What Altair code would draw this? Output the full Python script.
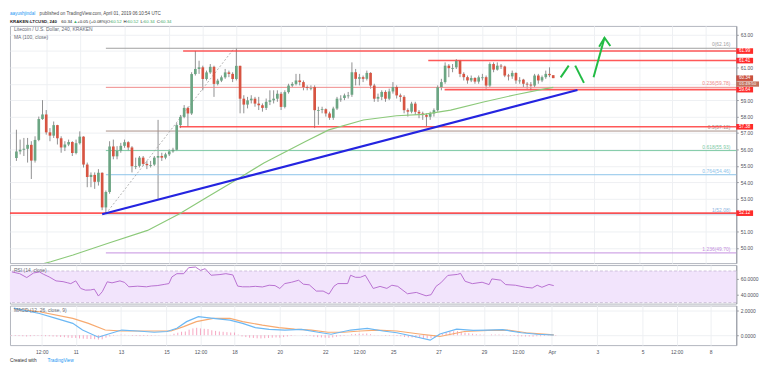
import altair as alt
import pandas as pd

FONT = "Liberation Sans"
W = 735
H_MAIN, H_RSI, H_MACD = 240, 39, 40
X_DOMAIN = [8.1, 40.13]
P_DOMAIN = [49.08, 63.52]
RSI_DOMAIN = [28.75, 77.5]
MACD_DOMAIN = [-0.8, 2.4]

UP, DOWN, WICK = "#6ba583", "#d75442", "#737375"
GRID = "#eef0f3"
TXT = "#50535e"
RED = "#ff3b3b"

# ---------------- data ----------------
first_candle_day = 8 + 4 / 24          # 8 March 04:00 UTC, 4h candles
candle_step = 4 / 24
first_open = 55.48
closes = [55.88, 55.98, 56.04, 56.28, 55.32, 56.58, 57.85, 58.13, 57.04, 56.84,
          57.48, 56.68, 56.12, 56.30, 56.45, 55.78, 56.38, 56.78, 55.08, 54.32,
          54.45, 54.03, 54.58, 52.47, 53.41, 56.18, 55.58, 55.92, 56.22, 56.44,
          56.12, 54.98, 55.00, 55.50, 55.12, 55.04, 55.08, 55.50, 55.60, 55.50,
          55.70, 55.88, 55.98, 57.48, 57.98, 58.53, 58.19, 60.59, 60.90, 61.00,
          60.29, 60.69, 61.03, 59.99, 60.19, 60.39, 60.69, 60.60, 60.29, 61.09,
          59.09, 58.73, 58.99, 59.09, 58.79, 58.69, 58.53, 58.90, 58.99, 59.09,
          59.39, 58.59, 59.49, 59.89, 59.99, 60.20, 60.10, 59.79, 59.75, 59.80,
          58.39, 58.40, 58.45, 58.19, 57.93, 58.49, 59.09, 59.13, 59.29, 59.33,
          60.70, 60.30, 60.40, 60.30, 60.66, 59.89, 59.09, 59.20, 59.50, 59.09,
          59.53, 59.80, 59.29, 59.20, 58.39, 58.30, 58.79, 58.29, 58.19, 58.09,
          57.99, 58.19, 58.39, 59.79, 60.10, 61.10, 60.95, 61.00, 61.40, 60.60,
          60.40, 60.20, 60.35, 60.13, 60.39, 60.40, 59.89, 61.20, 60.86, 61.10,
          61.05, 60.50, 60.45, 60.66, 60.20, 60.25, 60.00, 59.95, 59.89, 60.50,
          60.20, 60.40, 60.60, 60.52, 60.34]
highs = [57.2, 56.6, 56.7, 56.7, 56.5, 56.8, 58.0, 59.0, 58.4, 57.3,
         57.7, 57.5, 56.8, 56.5, 56.6, 56.5, 56.6, 57.1, 56.8, 55.2,
         54.6, 54.6, 54.8, 54.6, 53.5, 56.5, 56.6, 56.2, 56.4, 56.6,
         56.5, 56.2, 55.5, 55.6, 55.6, 55.3, 55.3, 55.6, 57.8, 55.8,
         55.8, 56.0, 56.1, 57.6, 58.1, 58.7, 58.6, 60.7, 62.0, 61.4,
         61.1, 60.8, 61.2, 61.1, 60.3, 60.5, 60.9, 60.8, 60.7, 62.16,
         61.1, 59.3, 59.2, 59.3, 59.2, 59.2, 58.8, 59.1, 59.6, 59.6,
         59.6, 59.5, 59.6, 60.0, 60.1, 60.6, 60.6, 60.2, 59.9, 59.9,
         59.9, 58.6, 58.6, 58.5, 58.3, 58.6, 59.2, 59.3, 59.4, 59.5,
         61.3, 60.9, 60.6, 60.5, 60.8, 60.7, 60.0, 59.4, 59.6, 59.6,
         59.7, 60.1, 59.9, 59.4, 59.3, 58.5, 58.9, 58.9, 58.4, 58.3,
         58.2, 58.3, 58.5, 59.9, 60.3, 61.3, 61.2, 61.2, 61.5, 61.45,
         60.7, 60.5, 60.5, 60.4, 60.5, 60.6, 60.5, 61.3, 61.3, 61.3,
         61.2, 61.1, 60.6, 60.8, 60.7, 60.4, 60.3, 60.1, 60.1, 60.6,
         60.6, 60.5, 60.8, 61.0, 60.52]
lows = [55.3, 55.7, 55.6, 55.2, 54.2, 55.2, 56.5, 57.8, 56.9, 56.5,
        56.7, 56.3, 55.8, 55.9, 56.2, 55.6, 55.7, 56.3, 54.9, 53.7,
        53.7, 53.6, 53.8, 52.3, 52.1, 53.3, 55.4, 55.4, 55.8, 56.1,
        55.9, 54.6, 54.8, 54.9, 55.0, 54.8, 54.9, 55.0, 53.0, 55.3,
        55.4, 55.6, 55.8, 55.9, 57.3, 57.9, 57.4, 58.1, 60.5, 60.6,
        59.6, 60.2, 60.6, 59.2, 59.9, 60.1, 60.3, 60.4, 60.1, 60.2,
        58.2, 58.2, 58.5, 58.8, 58.6, 58.4, 58.3, 58.4, 58.7, 58.8,
        58.9, 58.4, 58.5, 59.4, 59.8, 59.9, 59.9, 59.6, 59.6, 59.6,
        57.3, 57.5, 58.2, 58.0, 57.8, 57.8, 58.4, 58.9, 59.0, 59.1,
        59.2, 59.9, 59.9, 60.1, 60.2, 59.7, 58.9, 58.9, 59.0, 58.9,
        59.0, 59.4, 59.1, 58.9, 58.2, 58.0, 58.2, 58.1, 57.9, 57.8,
        57.4, 57.8, 58.0, 58.3, 59.6, 60.0, 60.4, 60.7, 60.9, 60.4,
        60.2, 60.0, 60.1, 60.0, 60.0, 60.2, 59.7, 59.8, 60.7, 60.8,
        60.9, 60.4, 60.2, 60.3, 60.0, 60.0, 59.8, 59.7, 59.6, 59.8,
        60.0, 60.1, 60.3, 60.4, 60.34]
macd_hist = [-0.05, -0.06, -0.07, -0.08, -0.10, -0.08, -0.06, -0.05, -0.06, -0.08, -0.08,
             -0.10, -0.12, -0.14, -0.16, -0.20, -0.22, -0.22,
             -0.26, -0.28, -0.30, -0.31, -0.32, -0.35, -0.33,
             -0.20, -0.10, -0.04, 0.02, 0.05, 0.04, -0.02,
             -0.05, -0.06, -0.07, -0.06, -0.05, -0.04, -0.03,
             -0.02, 0.00, 0.02, 0.03, 0.12, 0.20, 0.28,
             0.30, 0.45, 0.55, 0.60, 0.55, 0.52, 0.50,
             0.40, 0.35, 0.30, 0.28, 0.25, 0.22, 0.22,
             0.05, -0.10, -0.15, -0.20, -0.22, -0.25, -0.26,
             -0.24, -0.22, -0.20, -0.18, -0.20, -0.15, -0.10,
             -0.06, -0.02, 0.00, -0.02, -0.04, -0.05, -0.12,
             -0.16, -0.18, -0.20, -0.22, -0.18, -0.12, -0.08,
             -0.05, -0.02, 0.08, 0.10, 0.12, 0.12, 0.14,
             0.08, 0.02, -0.02, -0.02, -0.05, -0.04, -0.03,
             -0.06, -0.08, -0.14, -0.18, -0.18, -0.20, -0.22,
             -0.24, -0.26, -0.24, -0.20, -0.05, 0.10, 0.25,
             0.30, 0.32, 0.34, 0.28, 0.22, 0.16, 0.12,
             0.08, 0.06, 0.04, 0.00, 0.06, 0.06, 0.06,
             0.04, -0.02, -0.05, -0.06, -0.08, -0.09, -0.10,
             -0.10, -0.11, -0.08, -0.08, -0.06, -0.04, -0.03, -0.04]

ma_days = [8.40, 9.70, 10.70, 12.30, 14.03, 15.46, 16.63, 18.06, 19.23, 21.09,
           22.13, 23.68, 25.16, 26.37, 27.58, 29.05, 30.48, 31.78, 32.17]
ma_values = [48.70, 49.16, 49.57, 50.30, 51.07, 52.09, 53.05, 54.20, 55.18, 56.48,
             57.19, 57.79, 58.05, 58.13, 58.39, 58.89, 59.33, 59.69, 59.78]

rsi_days = [8.19, 8.53, 8.84, 9.14, 9.40, 9.57, 9.83, 10.13, 10.44, 10.65, 10.78, 11.00,
            11.22, 11.43, 11.65, 11.82, 12.00, 12.17, 12.39, 12.60, 12.95, 13.16, 13.34,
            13.73, 14.12, 14.33, 14.59, 14.90, 15.11, 15.24, 15.46, 15.76, 15.98, 16.28,
            16.50, 16.71, 16.97, 17.36, 17.62, 17.93, 18.14, 18.36, 18.66, 18.92, 19.23,
            19.53, 19.79, 20.00, 20.22, 20.52, 20.83, 21.04, 21.30, 21.61, 21.91, 22.17,
            22.39, 22.56, 22.99, 23.12, 23.34, 23.55, 23.77, 24.12, 24.42, 24.72, 24.94,
            25.20, 25.63, 26.02, 26.45, 26.67, 26.89, 27.10, 27.41, 27.84, 27.97, 28.17,
            28.49, 28.92, 29.23, 29.35, 29.74, 29.96, 30.39, 30.83, 31.13, 31.35, 31.56,
            31.87, 32.08]
rsi_values = [68.8, 66.6, 61.7, 67.5, 68.8, 66.0, 62.5, 57.5, 56.5, 55.0, 54.0, 57.5,
              47.9, 45.8, 46.0, 47.0, 38.3, 43.8, 56.3, 55.0, 57.5, 55.5, 50.0,
              50.8, 50.0, 51.0, 51.5, 53.0, 54.1, 62.5, 66.6, 66.6, 74.2, 75.0,
              70.8, 72.9, 64.6, 65.5, 66.6, 65.0, 50.9, 50.0, 50.0, 50.6, 49.8,
              52.0, 51.5, 47.9, 54.1, 55.8, 58.3, 53.3, 52.5, 44.6, 44.6, 40.8,
              50.8, 54.1, 54.1, 64.6, 62.0, 62.0, 64.6, 47.9, 50.5, 48.0, 52.0,
              50.6, 41.2, 42.9, 38.6, 40.0, 50.6, 55.0, 64.4, 65.7, 67.0, 57.0,
              54.0, 55.8, 52.8, 60.0, 58.4, 52.8, 52.0, 49.4, 48.5, 52.0, 49.4,
              53.0, 51.5]

macd_days = [8.27, 9.40, 10.13, 10.87, 11.30, 12.00, 12.30, 13.03, 13.73, 14.46, 15.03,
             15.46, 15.89, 16.41, 17.06, 17.80, 18.36, 18.92, 19.53, 20.22, 20.96, 21.69,
             22.26, 23.12, 23.86, 24.55, 25.16, 25.94, 26.63, 27.06, 27.80, 28.53, 29.18,
             29.83, 30.65, 31.35, 32.08]
macd_values = [2.20, 1.76, 1.36, 0.96, 0.42, -0.16, 0.02, 0.42, 0.34, 0.24, 0.30,
               0.56, 1.10, 1.50, 1.36, 1.22, 0.96, 0.62, 0.48, 0.42, 0.48, 0.24,
               0.08, 0.42, 0.56, 0.34, 0.20, -0.10, -0.40, 0.10, 0.49, 0.40, 0.42,
               0.45, 0.20, 0.08, 0.02]
signal_days = [8.27, 9.40, 10.87, 11.56, 12.30, 13.03, 14.46, 15.20, 15.76, 16.32, 17.06,
               17.80, 18.36, 19.23, 19.96, 20.65, 21.39, 22.13, 22.82, 23.55, 24.29, 25.16,
               26.15, 27.06, 28.14, 29.18, 30.05, 30.87, 32.08]
signal_values = [2.16, 1.90, 1.36, 0.96, 0.42, 0.34, 0.34, 0.34, 0.70, 1.10, 1.36,
                 1.36, 1.10, 0.82, 0.62, 0.50, 0.42, 0.24, 0.24, 0.34, 0.42, 0.34,
                 0.10, -0.10, 0.30, 0.40, 0.41, 0.20, 0.03]

fib_ratios = [0, 0.236, 0.5, 0.618, 0.764, 1, 1.236]
fib_prices = [62.16, 59.78, 57.12, 55.93, 54.46, 52.08, 49.70]
fib_start_day = 12.1667
fib_diag_days = [12.1667, 17.9]
fib_diag_prices = [52.08, 62.16]

red_line_prices = [61.99, 61.41, 59.64, 57.38]
red_line_start_days = [15.62, 26.58, 27.31, 15.46]
support_price = 52.12

trend_days = [12.00, 33.25]
trend_prices = [52.05, 59.62]

arrow_seg = [1, 1, 2, 2, 3, 3, 4, 4, 4]
arrow_days = [32.50, 32.86, 33.15, 33.54, 33.97, 34.46, 34.22, 34.46, 34.72]
arrow_prices = [60.39, 61.10, 61.10, 60.05, 60.39, 62.80, 62.25, 62.80, 62.30]

box_prices = [61.99, 61.41, 60.34, 59.64, 57.38, 52.12]
box_labels = ["61.99", "61.41", "60.34", "59.64", "57.38", "52.12"]
countdown_label = "01:49:50"
hidden_price_labels = [52, 60, 62]

tick_days = [9.5, 11, 13, 15, 16.5, 18, 20, 22, 23.5, 25, 27, 29, 30.5, 32, 34, 36, 37.5, 39]
tick_labels = ["12:00", "11", "13", "15", "12:00", "18", "20", "22", "12:00", "25",
               "27", "29", "12:00", "Apr", "3", "5", "12:00", "8"]

rsi_band = [70, 30]

# ---------------- tables ----------------
candles = pd.DataFrame({"close": closes, "high": highs, "low": lows, "hist": macd_hist})
candles["day"] = first_candle_day + candles.index * candle_step
candles["open"] = [first_open] + closes[:-1]

ma_df = pd.DataFrame({"day": ma_days, "v": ma_values})
rsi_df = pd.DataFrame({"day": rsi_days, "v": rsi_values})
macd_df = pd.DataFrame({"day": macd_days, "v": macd_values})
sig_df = pd.DataFrame({"day": signal_days, "v": signal_values})
trend_df = pd.DataFrame({"day": trend_days, "v": trend_prices})
arrow_df = pd.DataFrame({"seg": arrow_seg, "day": arrow_days, "v": arrow_prices})
diag_df = pd.DataFrame({"day": fib_diag_days, "v": fib_diag_prices})
ONE = pd.DataFrame({"k": [0]})

# ---------------- scales / axes ----------------
xs = alt.Scale(domain=X_DOMAIN, nice=False, zero=False)
grid_axis = alt.Axis(values=tick_days, labels=False, ticks=False, domain=False,
                     grid=True, gridColor=GRID, title=None)
label_expr = "".join(f"datum.value == {d} ? '{l}' : " for d, l in zip(tick_days, tick_labels)) + "''"
bottom_axis = alt.Axis(values=tick_days, labelExpr=label_expr, ticks=False, domain=False,
                       grid=True, gridColor=GRID, title=None, labelFontSize=5,
                       labelColor=TXT, labelPadding=4, labelFont=FONT)


def X(field, axis=grid_axis):
    return alt.X(field, type="quantitative", scale=xs, axis=axis)


def right_axis(values, fmt, label_expr=None):
    kw = {}
    if label_expr:
        kw["labelExpr"] = label_expr
    return alt.Axis(orient="right", values=values, format=fmt, title=None, labelFontSize=5,
                    labelColor=TXT, labelFont=FONT, tickSize=2, tickColor="#9598a1",
                    domainColor="#9598a1", gridColor=GRID, labelPadding=2, **kw)


hide_expr = " || ".join(f"datum.value == {v}" for v in hidden_price_labels)
p_axis = right_axis(list(range(50, 64)), ".2f", f"({hide_expr}) ? '' : datum.label")


def YP(field):
    return alt.Y(field, type="quantitative",
                 scale=alt.Scale(domain=P_DOMAIN, nice=False, zero=False), axis=p_axis)


def txt(s, x, y, color=TXT, size=5, bold=False, align="left"):
    return alt.Chart(ONE).mark_text(text=s, align=align, baseline="middle", font=FONT,
                                    fontSize=size, fontWeight="bold" if bold else "normal",
                                    color=color).encode(x=alt.value(x), y=alt.value(y))


# ---------------- main panel ----------------
layers = []
layers.append(alt.Chart(candles).mark_rule(color=WICK, strokeWidth=0.8).encode(
    x=X("day"), y=YP("low"), y2="high"))

fib_colors = ["#9e9e9e", "#ef8a8a", "#a89088", "#7cc8a4", "#8cc3ea", "#8cb4e0", "#c48ee0"]
for r, p, c in zip(fib_ratios, fib_prices, fib_colors):
    d = pd.DataFrame({"day": [fib_start_day], "v": [p]})
    layers.append(alt.Chart(d).mark_rule(color=c, strokeWidth=1).encode(
        x=X("day"), x2=alt.value(W), y=YP("v")))
    layers.append(alt.Chart(d).mark_text(text=f"{r:g}({p:.2f})", align="right", baseline="bottom",
                                         dy=-1, font=FONT, fontSize=5, color=c).encode(
        x=alt.value(W - 6), y=YP("v")))

layers.append(alt.Chart(diag_df).mark_line(color="#a0a0a0", strokeWidth=0.8,
                                           strokeDash=[2, 2]).encode(x=X("day"), y=YP("v")))

red_df = pd.DataFrame({"day": red_line_start_days, "v": red_line_prices})
layers.append(alt.Chart(red_df).mark_rule(color=RED, strokeWidth=1.6, opacity=0.85).encode(
    x=X("day"), x2=alt.value(W), y=YP("v")))
layers.append(alt.Chart(pd.DataFrame({"v": [support_price]})).mark_rule(
    color=RED, strokeWidth=1.6, opacity=0.85).encode(x=alt.value(0), x2=alt.value(W), y=YP("v")))

layers.append(alt.Chart(candles).transform_calculate(
    c2="abs(datum.close - datum.open) < 0.05 ? datum.open - 0.05 : datum.close",
    dir="datum.close >= datum.open ? 'up' : 'down'").mark_bar(size=2.7).encode(
    x=X("day"), y=YP("open"), y2="c2",
    color=alt.Color("dir:N", scale=alt.Scale(domain=["up", "down"], range=[UP, DOWN]), legend=None)))

layers.append(alt.Chart(ma_df).mark_line(color="#8cc97a", strokeWidth=1.2, clip=True).encode(
    x=X("day"), y=YP("v")))
layers.append(alt.Chart(trend_df).mark_line(color="#2424e0", strokeWidth=2.2).encode(
    x=X("day"), y=YP("v")))
layers.append(alt.Chart(arrow_df).mark_line(color="#22bb44", strokeWidth=2).encode(
    x=X("day"), y=YP("v"), detail="seg:N"))

# price boxes on the axis
box_df = pd.DataFrame({"v": box_prices, "lab": box_labels})
box_colors = ["#ff2b2b", "#ff2b2b", "#c9513f", "#ff2b2b", "#ff2b2b", "#ff2b2b"]
box_df["col"] = box_colors
layers.append(alt.Chart(box_df).transform_calculate(
    t="datum.v + 0.17", b="datum.v - 0.17").mark_rect().encode(
    x=alt.value(W), x2=alt.value(W + 17), y=YP("t"), y2="b",
    color=alt.Color("col:N", scale=None)))
layers.append(alt.Chart(box_df).mark_text(font=FONT, fontSize=4.6, color="white",
                                          align="center", baseline="middle").encode(
    x=alt.value(W + 8.5), y=YP("v"), text="lab:N"))
cd_df = pd.DataFrame({"v": [box_prices[2]], "lab": [countdown_label]})
layers.append(alt.Chart(cd_df).transform_calculate(
    t="datum.v - 0.2", b="datum.v - 0.52").mark_rect(color="#c0705c").encode(
    x=alt.value(W), x2=alt.value(W + 23), y=YP("t"), y2="b"))
layers.append(alt.Chart(cd_df).transform_calculate(c="datum.v - 0.36").mark_text(
    font=FONT, fontSize=4.4, color="white", align="center", baseline="middle").encode(
    x=alt.value(W + 11.5), y=YP("c"), text="lab:N"))

# texts
layers.append(txt("Litecoin / U.S. Dollar, 240, KRAKEN", 4, 3.5, color="#666a75"))
layers.append(txt("MA (100, close)", 4, 11, color="#666a75"))
layers.append(txt("aayushjindal", 0, -12, color="#2196f3", size=4.6))
layers.append(txt("published on TradingView.com, April 01, 2019 06:10:54 UTC", 30, -12,
                  color="#4a4a4a", size=4.6))
GREEN_T = "#3fae6a"
hdr2 = [("KRAKEN:LTCUSD, 240", 0, "#222", True), ("60.34", 52, "#222", False),
        ("▲", 64, GREEN_T, False), ("+0.05 (+0.08%)", 68, "#222", False),
        ("O:", 98, "#222", False), ("60.52", 102, GREEN_T, False),
        ("H:", 115, "#222", False), ("60.52", 119, GREEN_T, False),
        ("L:", 132, "#222", False), ("60.34", 135.5, GREEN_T, False),
        ("C:", 148.5, "#222", False), ("60.34", 152.5, GREEN_T, False)]
for s, x, c, b in hdr2:
    layers.append(txt(s, x, -4, color=c, size=4.4, bold=b))

main = alt.layer(*layers).properties(width=W, height=H_MAIN)

# ---------------- RSI panel ----------------
r_axis = right_axis([40, 60], ".4f")


def YR(field):
    return alt.Y(field, type="quantitative",
                 scale=alt.Scale(domain=RSI_DOMAIN, nice=False, zero=False), axis=r_axis)


band_df = pd.DataFrame({"hi": [rsi_band[0]], "lo": [rsi_band[1]]})
lvl_df = pd.DataFrame({"v": rsi_band})
rsi = alt.layer(
    alt.Chart(band_df).mark_rect(color="#f2e4fc").encode(
        x=alt.value(0), x2=alt.value(W), y=YR("hi"), y2="lo"),
    alt.Chart(lvl_df).mark_rule(color="#c5b6d3", strokeDash=[3, 2], strokeWidth=0.8).encode(
        y=YR("v")),
    alt.Chart(rsi_df).mark_line(color="#b870d0", strokeWidth=1).encode(x=X("day"), y=YR("v")),
    txt("RSI (14, close)", 4, 5, color="#666a75"),
).properties(width=W, height=H_RSI)

# ---------------- MACD panel ----------------
m_axis = right_axis([0, 2], ".4f")


def YM(field):
    return alt.Y(field, type="quantitative",
                 scale=alt.Scale(domain=MACD_DOMAIN, nice=False, zero=False), axis=m_axis)


macd = alt.layer(
    alt.Chart(candles).transform_calculate(z="0").mark_rule(
        color="#f48fb1", strokeWidth=1, opacity=0.8).encode(
        x=X("day", bottom_axis), y=YM("z"), y2="hist"),
    alt.Chart(sig_df).mark_line(color="#f7aa70", strokeWidth=1.2).encode(
        x=X("day", bottom_axis), y=YM("v")),
    alt.Chart(macd_df).mark_line(color="#6cb8f4", strokeWidth=1.2).encode(
        x=X("day", bottom_axis), y=YM("v")),
    txt("MACD (12, 26, close, 9)", 4, 5, color="#666a75"),
    txt("Created with", 0, H_MACD + 16, color="#333", size=4.8),
    txt("TradingView", 38, H_MACD + 16, color="#2196f3", size=4.8),
).properties(width=W, height=H_MACD)

chart = alt.vconcat(main, rsi, macd, spacing=0).properties(
    padding=0, background="white"
).configure_view(stroke="#b2b5be", strokeWidth=1).configure_concat(spacing=0)

chart.save("out.html", embed_options={"renderer": "svg", "actions": False})
